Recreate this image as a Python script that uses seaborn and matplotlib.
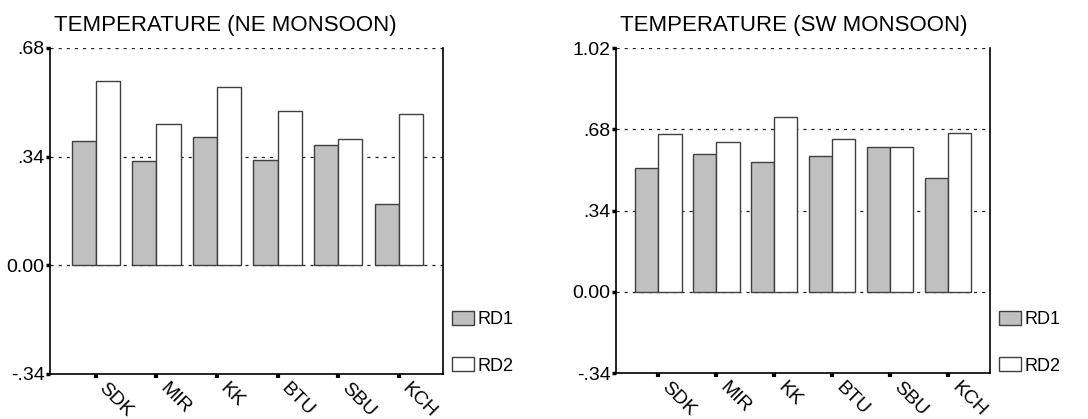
import numpy as np
import pandas as pd
import matplotlib
matplotlib.use("Agg")
import matplotlib.pyplot as plt
import seaborn as sns

sites = ["SDK", "MIR", "KK", "BTU", "SBU", "KCH"]
series = ["RD1", "RD2"]
ne_rd1 = [0.389, 0.326, 0.401, 0.330, 0.376, 0.192]
ne_rd2 = [0.576, 0.442, 0.557, 0.483, 0.394, 0.472]
sw_rd1 = [0.518, 0.575, 0.541, 0.570, 0.604, 0.475]
sw_rd2 = [0.659, 0.626, 0.730, 0.641, 0.604, 0.663]
ne_ticks = [-0.34, 0.0, 0.34, 0.68]
ne_ticklabels = ["-.34", "0.00", ".34", ".68"]
sw_ticks = [-0.34, 0.0, 0.34, 0.68, 1.02]
sw_ticklabels = ["-.34", "0.00", ".34", ".68", "1.02"]
titles = ["TEMPERATURE (NE MONSOON)", "TEMPERATURE (SW MONSOON)"]

sns.set_style("white")
plt.rcParams["font.family"] = ["Liberation Sans", "DejaVu Sans"]
plt.rcParams["text.color"] = "black"
plt.rcParams["axes.labelcolor"] = "black"
plt.rcParams["xtick.color"] = "black"
plt.rcParams["ytick.color"] = "black"

W, H = 1088, 419
fig = plt.figure(figsize=(W / 100, H / 100), dpi=100)


def px_rect(x0, x1, y0, y1):
    return [x0 / W, 1 - y1 / H, (x1 - x0) / W, (y1 - y0) / H]


ax1 = fig.add_axes(px_rect(50, 443, 48, 374))
ax2 = fig.add_axes(px_rect(616, 990, 48, 373))

palette = {"RD1": "#C0C0C0", "RD2": "#FFFFFF"}


def make_df(r1, r2):
    return pd.DataFrame({
        "site": sites * 2,
        "series": ["RD1"] * len(sites) + ["RD2"] * len(sites),
        "value": list(r1) + list(r2),
    })


panels = [
    (ax1, make_df(ne_rd1, ne_rd2), ne_ticks, ne_ticklabels, titles[0], (-0.755, 5.73), 452),
    (ax2, make_df(sw_rd1, sw_rd2), sw_ticks, sw_ticklabels, titles[1], (-0.73, 5.72), 999),
]

for ax, df, ticks, tlabels, title, xlim, legx in panels:
    sns.barplot(data=df, x="site", y="value", hue="series", hue_order=series,
                order=sites, palette=palette, edgecolor="#404040", linewidth=1.0,
                width=0.8, ax=ax, legend=True, zorder=3)
    handles, labels = ax.get_legend_handles_labels()
    if ax.get_legend() is not None:
        ax.get_legend().remove()
    ax.set_ylim(ticks[0], ticks[-1])
    ax.set_xlim(*xlim)
    ax.set_yticks(ticks)
    ax.set_yticklabels(tlabels, fontsize=14)
    ax.set_xticks(range(len(sites)))
    ax.set_xticklabels(sites, fontsize=14, rotation=-45, ha="left", va="bottom",
                       rotation_mode="anchor")
    ax.set_xlabel("")
    ax.set_ylabel("")
    ax.set_title(title, loc="left", fontsize=16, pad=12, x=0.01, color="black")
    ax.set_axisbelow(True)
    for t in ticks:
        ax.axhline(t, color="#222222", lw=0.9, ls=(0, (2.5, 4)), zorder=1)
    for s in ["left", "right", "bottom"]:
        ax.spines[s].set_visible(True)
        ax.spines[s].set_color("black")
        ax.spines[s].set_linewidth(1.2)
    ax.spines["top"].set_visible(False)
    ax.tick_params(axis="y", left=True, direction="out", length=3, width=2.5, pad=1)
    ax.tick_params(axis="x", bottom=True, direction="out", length=3, width=3, pad=10)
    ax.legend(handles, labels, loc="upper left",
              bbox_to_anchor=(legx / W, 1 - 311 / H), bbox_transform=fig.transFigure,
              frameon=False, fontsize=13, handlelength=1.2, handleheight=0.8,
              handletextpad=0.2, labelspacing=1.62, borderpad=0, borderaxespad=0)

fig.savefig("out.png", dpi=100)
